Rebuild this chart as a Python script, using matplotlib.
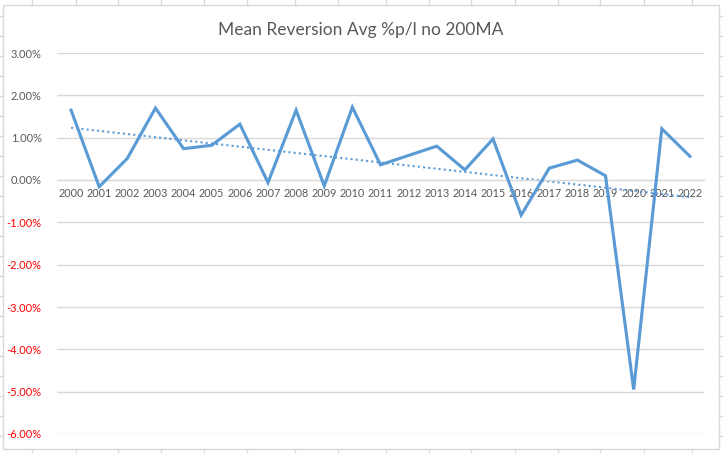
import matplotlib
matplotlib.use("Agg")
import matplotlib.pyplot as plt
import numpy as np
from matplotlib.lines import Line2D
from matplotlib.patches import Rectangle
from matplotlib.ticker import FuncFormatter, MultipleLocator

years = [str(y) for y in range(2000, 2023)]
values = [1.65, -0.16, 0.51, 1.70, 0.74, 0.82, 1.32, -0.06, 1.65, -0.14, 1.72,
          0.36, 0.58, 0.80, 0.24, 0.97, -0.83, 0.28, 0.47, 0.10, -4.95, 1.21, 0.56]
title = "Mean Reversion Avg %p/l no 200MA"

plt.rcParams['font.family'] = ['Lato', 'DejaVu Sans']

W, H = 723, 453
fig = plt.figure(figsize=(W / 100, H / 100), dpi=100)

grid_c = '#d9d9d9'
text_c = '#595959'
line_c = '#5b9bd5'

# spreadsheet background stubs
cols = [32, 76, 118, 161, 204, 247, 295, 338, 386, 429, 471, 515, 558, 600, 644, 692]
for cx in cols:
    fig.add_artist(Line2D([cx / W, cx / W], [1, 1 - 4.5 / H], color=grid_c, lw=1))
    fig.add_artist(Line2D([cx / W, cx / W], [0, 1 - 449 / H], color=grid_c, lw=1))
for ry in range(16, 453, 20):
    fig.add_artist(Line2D([0, 3 / W], [1 - ry / H, 1 - ry / H], color=grid_c, lw=1))
    fig.add_artist(Line2D([719 / W, 1], [1 - ry / H, 1 - ry / H], color=grid_c, lw=1))
# chart border
fig.add_artist(Rectangle((3 / W, 1 - 449 / H), (719 - 3) / W, (449 - 4.5) / H,
                         fill=False, edgecolor=grid_c, lw=1))

ax = fig.add_axes([57 / W, 1 - 434 / H, (704 - 57) / W, (434 - 53) / H])
x = np.arange(len(years))
ax.set_xlim(-0.5, len(years) - 0.5)
ax.set_ylim(-6, 3)
ax.yaxis.set_major_locator(MultipleLocator(1))
ax.yaxis.grid(True, color=grid_c, lw=1)
ax.set_axisbelow(True)

# trendline
coef = np.polyfit(x, values, 1)
ax.plot(x, np.polyval(coef, x), color=line_c, lw=1.5, ls=(0, (1, 1.5)), zorder=2)
ax.plot(x, values, color=line_c, lw=2.25, zorder=3, solid_joinstyle='miter')

for s in ['top', 'right', 'left']:
    ax.spines[s].set_visible(False)
ax.spines['bottom'].set_position(('data', 0))
ax.spines['bottom'].set_color(grid_c)
ax.set_xticks(x)
ax.set_xticklabels(years)
ax.tick_params(axis='x', length=0, pad=6, labelsize=7.8, labelcolor=text_c)
ax.tick_params(axis='y', length=0, pad=11, labelsize=8)
ax.yaxis.set_major_formatter(FuncFormatter(lambda v, p: f"{v:.2f}%"))
for lbl, v in zip(ax.get_yticklabels(), ax.get_yticks()):
    lbl.set_color('#ff0000' if v < 0 else text_c)

fig.text(361 / W, 1 - 30 / H, title, ha='center', va='center', fontsize=12.5, color=text_c)

fig.savefig('out.png', dpi=100)
